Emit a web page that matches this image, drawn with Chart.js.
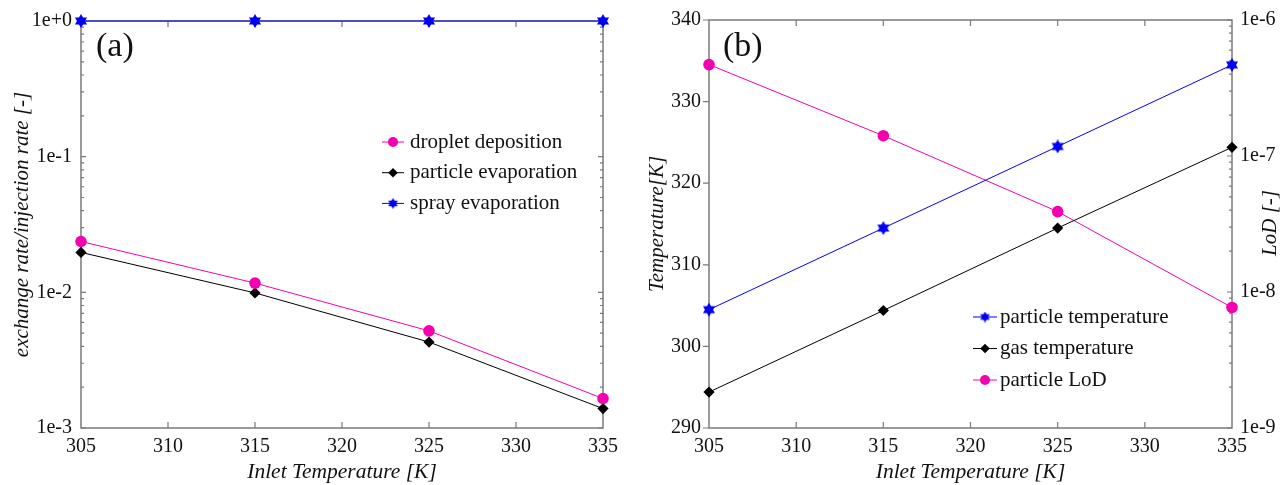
<!DOCTYPE html>
<html>
<head>
<meta charset="utf-8">
<script src="https://cdn.jsdelivr.net/npm/chart.js@4.4.0/dist/chart.umd.min.js"></script>
<style>
  html, body { margin: 0; padding: 0; background: #fff; }
  #wrap { position: relative; width: 1283px; height: 485px; }
  .panel { position: absolute; top: 0; height: 485px; }
  #panelA { left: 0; width: 640px; }
  #panelB { left: 640px; width: 643px; }
</style>
</head>
<body>
<div id="wrap">
  <div class="panel" id="panelA"><canvas id="rateChart" width="640" height="485"></canvas></div>
  <div class="panel" id="panelB"><canvas id="tempChart" width="643" height="485"></canvas></div>
</div>
<script>
// inlet temperatures, shared x values
const inletTemps = [305, 315, 325, 335];
const xTickValues = [305, 310, 315, 320, 325, 330, 335];

// (a) exchange rate / injection rate
const dropletDeposition = [0.0237, 0.0117, 0.0052, 0.00165];
const particleEvaporation = [0.0197, 0.0099, 0.0043, 0.00139];
const sprayEvaporation = [1, 1, 1, 1];
const rateTickValues = [1e-3, 1e-2, 1e-1, 1];
const rateTickLabels = ['1e-3', '1e-2', '1e-1', '1e+0'];

// (b) temperatures (left axis) and LoD (right axis)
const particleTemperature = [304.5, 314.5, 324.5, 334.5];
const gasTemperature = [294.4, 304.4, 314.5, 324.4];
const particleLoD = [4.7e-7, 1.41e-7, 3.9e-8, 7.7e-9];
const tempTickValues = [290, 300, 310, 320, 330, 340];
const lodTickValues = [1e-9, 1e-8, 1e-7, 1e-6];
const lodTickLabels = ['1e-9', '1e-8', '1e-7', '1e-6'];

const PINK = '#f500b0';
const BLACK = '#000000';
const BLUE = '#0000f2';
const AXIS = '#7a7a7a';
const SERIF = "'Liberation Serif', 'Times New Roman', serif";

Chart.defaults.font.family = SERIF;
Chart.defaults.font.size = 20;
Chart.defaults.color = '#111';

function pts(ys) {
    return inletTemps.map((x, i) => ({ x: x, y: ys[i] }));
}

// filled six-pointed star marker
function makeStar(size, color) {
    const c = document.createElement('canvas');
    c.width = c.height = size;
    const g = c.getContext('2d');
    const r = size / 2;
    g.fillStyle = color;
    [-Math.PI / 2, Math.PI / 2].forEach(off => {
        g.beginPath();
        for (let i = 0; i < 3; i++) {
            const a = off + i * 2 * Math.PI / 3;
            const px = r + r * Math.cos(a), py = r + r * Math.sin(a);
            if (i) g.lineTo(px, py); else g.moveTo(px, py);
        }
        g.closePath();
        g.fill();
    });
    return c;
}
const starBig = makeStar(14, BLUE);
const starSmall = makeStar(11, BLUE);

function series(label, ys, color, style, radius, yAxisID) {
    return {
        label: label,
        data: pts(ys),
        yAxisID: yAxisID || 'y',
        borderColor: color,
        backgroundColor: color,
        borderWidth: 1,
        pointStyle: style,
        pointRadius: radius,
        pointBorderWidth: 0,
        pointBackgroundColor: color,
        tension: 0,
        clip: false
    };
}

function logMinors(values) {
    const out = [];
    for (let d = 0; d < values.length - 1; d++) {
        for (let k = 2; k <= 9; k++) out.push(values[d] * k);
    }
    return out;
}

// box around the plot area plus tick marks on all four sides
const framePlugin = {
    id: 'frame',
    beforeDatasetsDraw(chart, args, o) {
        const { ctx, chartArea: a, scales } = chart;
        ctx.save();
        ctx.strokeStyle = AXIS;
        ctx.lineWidth = 1.5;
        ctx.strokeRect(a.left, a.top, a.right - a.left, a.bottom - a.top);
        ctx.lineWidth = 1.2;
        ctx.beginPath();
        xTickValues.slice(1, -1).forEach(v => {
            const px = scales.x.getPixelForValue(v);
            ctx.moveTo(px, a.bottom); ctx.lineTo(px, a.bottom - 6);
            ctx.moveTo(px, a.top); ctx.lineTo(px, a.top + 6);
        });
        o.sides.forEach(s => {
            const sc = scales[s.scale];
            const x0 = s.side === 'left' ? a.left : a.right;
            const dir = s.side === 'left' ? 1 : -1;
            s.majors.forEach(v => {
                const py = sc.getPixelForValue(v);
                ctx.moveTo(x0, py); ctx.lineTo(x0 + dir * s.majorLen, py);
            });
            (s.minors || []).forEach(v => {
                const py = sc.getPixelForValue(v);
                ctx.moveTo(x0, py); ctx.lineTo(x0 + dir * 3, py);
            });
        });
        ctx.stroke();
        ctx.restore();
    }
};

// legend drawn inside the plot area
const inlineLegend = {
    id: 'inlineLegend',
    afterDatasetsDraw(chart, args, o) {
        const ctx = chart.ctx;
        ctx.save();
        ctx.font = '21px ' + SERIF;
        ctx.textBaseline = 'middle';
        ctx.textAlign = 'left';
        chart.data.datasets.forEach((ds, i) => {
            const y = o.y + i * o.gap;
            ctx.strokeStyle = ds.borderColor;
            ctx.lineWidth = 1;
            ctx.beginPath();
            ctx.moveTo(o.x, y);
            ctx.lineTo(o.x + o.lineLen, y);
            ctx.stroke();
            const style = ds.pointStyle === starBig ? starSmall : ds.pointStyle;
            ctx.fillStyle = ds.borderColor;
            Chart.helpers.drawPoint(ctx, {
                pointStyle: style, rotation: 0, radius: ds.pointRadius - 0.8, borderWidth: 0
            }, o.x + o.lineLen / 2, y);
            ctx.fillStyle = '#111';
            ctx.fillText(ds.label, o.x + o.lineLen + o.textGap, y);
        });
        ctx.restore();
    }
};

// panel letter and any extra rotated axis title
const panelText = {
    id: 'panelText',
    afterDraw(chart, args, o) {
        const ctx = chart.ctx;
        ctx.save();
        ctx.fillStyle = '#111';
        ctx.font = '34px ' + SERIF;
        ctx.textBaseline = 'middle';
        ctx.textAlign = 'left';
        ctx.fillText(o.letter, o.letterX, o.letterY);
        if (o.rightTitle) {
            ctx.font = 'italic 21px ' + SERIF;
            ctx.textAlign = 'center';
            ctx.translate(o.rightTitleX, o.rightTitleY);
            ctx.rotate(-Math.PI / 2);
            ctx.fillText(o.rightTitle, 0, 0);
        }
        ctx.restore();
    }
};

function xScale() {
    return {
        type: 'linear',
        min: 305,
        max: 335,
        afterBuildTicks: s => { s.ticks = xTickValues.map(v => ({ value: v })); },
        afterFit: s => { s.height = 57; },
        grid: { display: false, drawTicks: false },
        border: { display: false },
        ticks: { padding: 7, maxRotation: 0, autoSkip: false },
        title: {
            display: true,
            text: 'Inlet Temperature [K]',
            font: { style: 'italic', size: 21.5 },
            padding: { top: 0, bottom: 0 }
        }
    };
}

new Chart(document.getElementById('rateChart'), {
    type: 'line',
    data: {
        datasets: [
            series('droplet deposition', dropletDeposition, PINK, 'circle', 5.8),
            series('particle evaporation', particleEvaporation, BLACK, 'rectRot', 5.6),
            series('spray evaporation', sprayEvaporation, BLUE, starBig, 6.5)
        ]
    },
    options: {
        responsive: false,
        animation: false,
        layout: { padding: { top: 18, right: 37, left: 0, bottom: 0 } },
        scales: {
            x: xScale(),
            y: {
                type: 'logarithmic',
                min: 1e-3,
                max: 1,
                afterBuildTicks: s => { s.ticks = rateTickValues.map(v => ({ value: v })); },
                afterFit: s => { s.width = 81; },
                grid: { display: false, drawTicks: false },
                border: { display: false },
                ticks: {
                    padding: 9,
                    autoSkip: false,
                    callback: v => rateTickLabels[rateTickValues.indexOf(v)]
                },
                title: {
                    display: true,
                    text: 'exchange rate/injection rate [-]',
                    font: { style: 'italic', size: 21 },
                    padding: { top: 10, bottom: 0 }
                }
            }
        },
        plugins: {
            legend: { display: false },
            tooltip: { enabled: false },
            frame: {
                sides: [
                    { scale: 'y', side: 'left', majors: rateTickValues, minors: logMinors(rateTickValues), majorLen: 5 },
                    { scale: 'y', side: 'right', majors: rateTickValues, minors: logMinors(rateTickValues), majorLen: 5 }
                ]
            },
            inlineLegend: { x: 382, y: 142, gap: 30.7, lineLen: 22, textGap: 6 },
            panelText: { letter: '(a)', letterX: 96, letterY: 47 }
        }
    },
    plugins: [framePlugin, inlineLegend, panelText]
});

new Chart(document.getElementById('tempChart'), {
    type: 'line',
    data: {
        datasets: [
            series('particle temperature', particleTemperature, BLUE, starBig, 6.5, 'y'),
            series('gas temperature', gasTemperature, BLACK, 'rectRot', 5.6, 'y'),
            series('particle LoD', particleLoD, PINK, 'circle', 5.8, 'y1')
        ]
    },
    options: {
        responsive: false,
        animation: false,
        layout: { padding: { top: 18, right: 0, left: 0, bottom: 0 } },
        scales: {
            x: xScale(),
            y: {
                type: 'linear',
                position: 'left',
                min: 290,
                max: 340,
                afterBuildTicks: s => { s.ticks = tempTickValues.map(v => ({ value: v })); },
                afterFit: s => { s.width = 69; },
                grid: { display: false, drawTicks: false },
                border: { display: false },
                ticks: { padding: 8, autoSkip: false },
                title: {
                    display: true,
                    text: 'Temperature[K]',
                    font: { style: 'italic', size: 21 },
                    padding: { top: 5, bottom: 0 }
                }
            },
            y1: {
                type: 'logarithmic',
                position: 'right',
                min: 1e-9,
                max: 1e-6,
                afterBuildTicks: s => { s.ticks = lodTickValues.map(v => ({ value: v })); },
                afterFit: s => { s.width = 51; },
                grid: { display: false, drawTicks: false },
                border: { display: false },
                ticks: {
                    padding: 8,
                    autoSkip: false,
                    callback: v => lodTickLabels[lodTickValues.indexOf(v)]
                }
            }
        },
        plugins: {
            legend: { display: false },
            tooltip: { enabled: false },
            frame: {
                sides: [
                    { scale: 'y', side: 'left', majors: tempTickValues, majorLen: -6 },
                    { scale: 'y1', side: 'right', majors: lodTickValues, minors: logMinors(lodTickValues), majorLen: 5 }
                ]
            },
            inlineLegend: { x: 333, y: 317, gap: 31.5, lineLen: 24, textGap: 3 },
            panelText: { letter: '(b)', letterX: 83, letterY: 47, rightTitle: 'LoD [-]', rightTitleX: 630, rightTitleY: 223 }
        }
    },
    plugins: [framePlugin, inlineLegend, panelText]
});
</script>
</body>
</html>
